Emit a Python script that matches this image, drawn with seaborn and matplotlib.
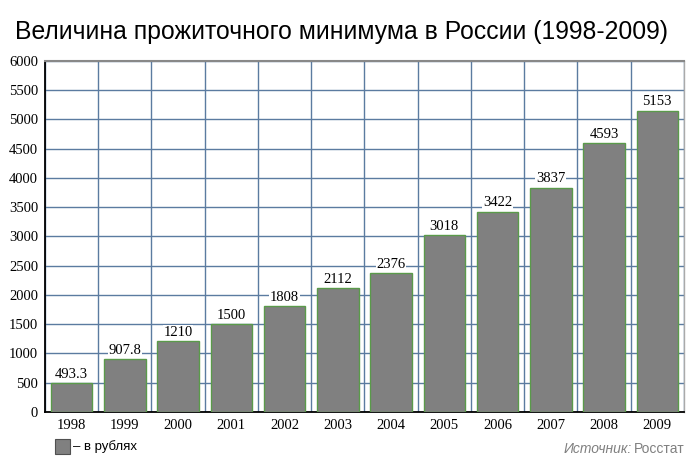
import matplotlib
matplotlib.use("Agg")
import matplotlib.pyplot as plt
import seaborn as sns
import pandas as pd
import numpy as np
from matplotlib.patches import Rectangle

years = ["1998", "1999", "2000", "2001", "2002", "2003", "2004", "2005", "2006", "2007", "2008", "2009"]
values = [493.3, 907.8, 1210, 1500, 1808, 2112, 2376, 3018, 3422, 3837, 4593, 5153]
labels = ["493.3", "907.8", "1210", "1500", "1808", "2112", "2376", "3018", "3422", "3837", "4593", "5153"]

sns.set_style("white")
plt.rcParams["font.family"] = ["Liberation Serif", "DejaVu Serif"]
plt.rcParams["text.color"] = "black"
plt.rcParams["xtick.color"] = "black"
plt.rcParams["ytick.color"] = "black"
plt.rcParams["axes.labelcolor"] = "black"

df = pd.DataFrame({"year": years, "value": values})

fig = plt.figure(figsize=(7, 4.71), dpi=100)
ax = fig.add_axes([0.0643, 0.1253, 0.9127, 0.7452])

sns.barplot(data=df, x="year", y="value", color="#808080", saturation=1,
            width=0.78, edgecolor="#5a9a4a", linewidth=1.0, ax=ax, zorder=3)

ax.set_xlim(-0.5, len(years) - 0.5)
ax.set_ylim(0, 6000)
ax.set_yticks(np.arange(0, 6001, 500))
ax.set_xticks(np.arange(len(years)))
ax.set_xticks(np.arange(-0.5, len(years), 1.0), minor=True)
ax.grid(True, axis="y", which="major", color="#5b7ba0", linewidth=1.0, zorder=0)
ax.grid(True, axis="x", which="minor", color="#5b7ba0", linewidth=1.0, zorder=0)
ax.grid(False, axis="x", which="major")
ax.set_axisbelow(True)

ax.tick_params(axis="x", which="major", length=0, labelsize=10.5, pad=5, labelcolor="black")
ax.tick_params(axis="x", which="minor", length=4, width=1, color="black", direction="out")
ax.tick_params(axis="y", which="major", length=4, width=1, color="black", direction="out",
               labelsize=10.5, pad=1, labelcolor="black")
ax.set_xlabel("")
ax.set_ylabel("")

for s in ["left", "bottom"]:
    ax.spines[s].set_color("black")
    ax.spines[s].set_linewidth(1.3)
ax.spines["top"].set_color("#888888")
ax.spines["top"].set_linewidth(1.5)
ax.spines["right"].set_color("#aaaaaa")
ax.spines["right"].set_linewidth(1.0)

for i, (v, lab) in enumerate(zip(values, labels)):
    ax.text(i, v + 40, lab, ha="center", va="bottom", fontsize=10.5, zorder=5, color="black",
            bbox=dict(facecolor="white", edgecolor="none", pad=0.5))

fig.text(0.021, 0.932, "Величина прожиточного минимума в России (1998-2009)",
         fontsize=17.8, color="black", family=["Liberation Sans", "DejaVu Sans"],
         ha="left", va="center")

fig.patches.append(Rectangle((0.079, 0.037), 0.021, 0.031, transform=fig.transFigure,
                             facecolor="#808080", edgecolor="#505050", linewidth=0.8))
fig.text(0.104, 0.053, "– в рублях", fontsize=9.5, color="black",
         family=["Liberation Sans", "DejaVu Sans"], ha="left", va="center")

fig.text(0.905, 0.047, "Росстат", fontsize=10, color="#808080",
         family=["Liberation Sans", "DejaVu Sans"], ha="left", va="center")
fig.text(0.903, 0.047, "Источник:", fontsize=10, color="#808080", style="italic",
         family=["Liberation Sans", "DejaVu Sans"], ha="right", va="center")

fig.savefig("out.png", dpi=100)
